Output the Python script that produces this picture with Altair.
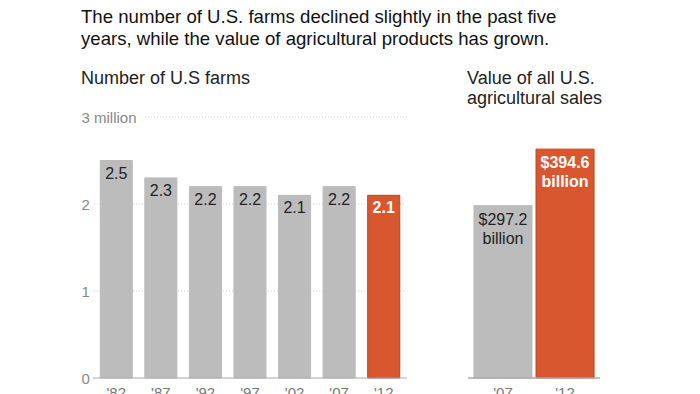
import altair as alt
import pandas as pd

# ---- data ----
farm_years = ["'82", "'87", "'92", "'97", "'02", "'07", "'12"]
farm_counts = [2.5, 2.3, 2.2, 2.2, 2.1, 2.2, 2.1]          # millions
farm_labels = ["2.5", "2.3", "2.2", "2.2", "2.1", "2.2", "2.1"]
farm_highlight = [False, False, False, False, False, False, True]

sales_years = ["'07", "'12"]
sales_values = [297.2, 394.6]                               # billions of dollars
sales_labels = ["$297.2\nbillion", "$394.6\nbillion"]
sales_highlight = [False, True]

grid_values = [1, 2]
top_grid = [3]
base_grid = [0]

title_lines = [
    "The number of U.S. farms declined slightly in the past five",
    "years, while the value of agricultural products has grown.",
]
left_subtitle = "Number of U.S farms"
right_subtitle = ["Value of all U.S.", "agricultural sales"]

GREY = "#bcbcbc"
RED = "#d9572f"
FONT = "Liberation Sans"

farms = pd.DataFrame({"year": farm_years, "farms": farm_counts,
                      "label": farm_labels, "hl": farm_highlight})
sales = pd.DataFrame({"year": sales_years, "value": sales_values,
                      "label": sales_labels, "hl": sales_highlight})

LW, RW, H = 312, 130, 261

# ---- left panel ----
xl = alt.X("year:N", sort=farm_years,
           scale=alt.Scale(paddingInner=0.28, paddingOuter=0.14),
           axis=alt.Axis(title=None, labelAngle=0, ticks=False, domain=False,
                         labelPadding=7, labelColor="#777", labelFontSize=15,
                         labelFont=FONT))
yl = alt.Y("farms:Q", scale=alt.Scale(domain=[0, 3]),
           axis=alt.Axis(title=None, values=[0, 1, 2, 3], grid=False, ticks=False,
                         tickSize=0, domain=False, labelAlign="left", labelPadding=13,
                         labelBaseline="middle", labelColor="#888", labelFontSize=15,
                         labelFont=FONT,
                         labelExpr="datum.value == 3 ? '3 million' : format(datum.value, 'd')"))

grid = alt.Chart(pd.DataFrame({"v": grid_values})).mark_rule(
    color="#cfcfcf", strokeDash=[1, 2], strokeWidth=1
).encode(y=alt.Y("v:Q"), x=alt.value(0), x2=alt.value(LW))
grid3 = alt.Chart(pd.DataFrame({"v": top_grid})).mark_rule(
    color="#cfcfcf", strokeDash=[1, 2], strokeWidth=1
).encode(y=alt.Y("v:Q"), x=alt.value(51), x2=alt.value(LW + 1))

bars_l = alt.Chart(farms).mark_bar().encode(
    x=xl, y=yl,
    color=alt.Color("hl:N", scale=alt.Scale(domain=[False, True], range=[GREY, RED]),
                    legend=None),
    stroke=alt.Stroke("hl:N", scale=alt.Scale(domain=[False, True],
                                              range=[GREY, "#c4401c"]), legend=None),
)
base_l = alt.Chart(pd.DataFrame({"v": base_grid})).mark_rule(
    color="#aaaaaa", strokeWidth=1
).encode(y=alt.Y("v:Q"), x=alt.value(-1), x2=alt.value(LW + 1))

txt_l = alt.Chart(farms).transform_filter("!datum.hl").mark_text(
    baseline="middle", dy=13, fontSize=16, font=FONT, color="#222"
).encode(x=alt.X("year:N", sort=farm_years), y="farms:Q", text="label:N")
txt_l_hl = alt.Chart(farms).transform_filter("datum.hl").mark_text(
    baseline="middle", dy=13, fontSize=16, font=FONT, color="white", fontWeight="bold"
).encode(x=alt.X("year:N", sort=farm_years), y="farms:Q", text="label:N")

sub_l = alt.Chart(pd.DataFrame({"t": [left_subtitle]})).mark_text(
    align="left", baseline="alphabetic", fontSize=18, font=FONT, color="#222"
).encode(x=alt.value(-13), y=alt.value(-33), text="t:N")

left = alt.layer(grid, grid3, bars_l, base_l, txt_l, txt_l_hl, sub_l).properties(
    width=LW, height=H)

# ---- right panel ----
xr = alt.X("year:N", sort=sales_years,
           scale=alt.Scale(paddingInner=0.065, paddingOuter=0.08),
           axis=alt.Axis(title=None, labelAngle=0, ticks=False, domain=False,
                         labelPadding=7, labelColor="#777", labelFontSize=15,
                         labelFont=FONT))
yr = alt.Y("value:Q", scale=alt.Scale(domain=[0, 446]), axis=None)

bars_r = alt.Chart(sales).mark_bar().encode(
    x=xr, y=yr,
    color=alt.Color("hl:N", scale=alt.Scale(domain=[False, True], range=[GREY, RED]),
                    legend=None),
    stroke=alt.Stroke("hl:N", scale=alt.Scale(domain=[False, True],
                                              range=[GREY, "#c4401c"]), legend=None),
)
base_r = alt.Chart(sales).mark_rule(color="#aaaaaa", strokeWidth=1).encode(
    y=alt.datum(0), x=alt.value(-1), x2=alt.value(RW + 1))

txt_r = alt.Chart(sales).transform_filter("!datum.hl").mark_text(
    baseline="top", dy=6, fontSize=16, font=FONT, color="#222", lineBreak="\n",
    lineHeight=19
).encode(x=alt.X("year:N", sort=sales_years), y="value:Q", text="label:N")
txt_r_hl = alt.Chart(sales).transform_filter("datum.hl").mark_text(
    baseline="top", dy=6, fontSize=16, font=FONT, color="white", fontWeight="bold",
    lineBreak="\n", lineHeight=19
).encode(x=alt.X("year:N", sort=sales_years), y="value:Q", text="label:N")

sub_r = alt.Chart(pd.DataFrame({"t": ["x"]})).mark_text(
    align="left", baseline="alphabetic", fontSize=18, font=FONT, color="#222",
    lineHeight=20
).encode(x=alt.value(-2), y=alt.value(-33), text=alt.value(right_subtitle))

right = alt.layer(bars_r, base_r, txt_r, txt_r_hl, sub_r).properties(width=RW, height=H)

chart = alt.hconcat(left, right, spacing=59).properties(
    title=alt.TitleParams(text=title_lines, anchor="start", fontSize=18.6,
                          fontWeight="normal", font=FONT, color="#111",
                          lineHeight=22, offset=21),
    padding={"left": 73, "top": 0, "right": 0, "bottom": 0},
).configure_view(stroke=None)

chart.save("out.html", embed_options={"renderer": "svg", "actions": False})
